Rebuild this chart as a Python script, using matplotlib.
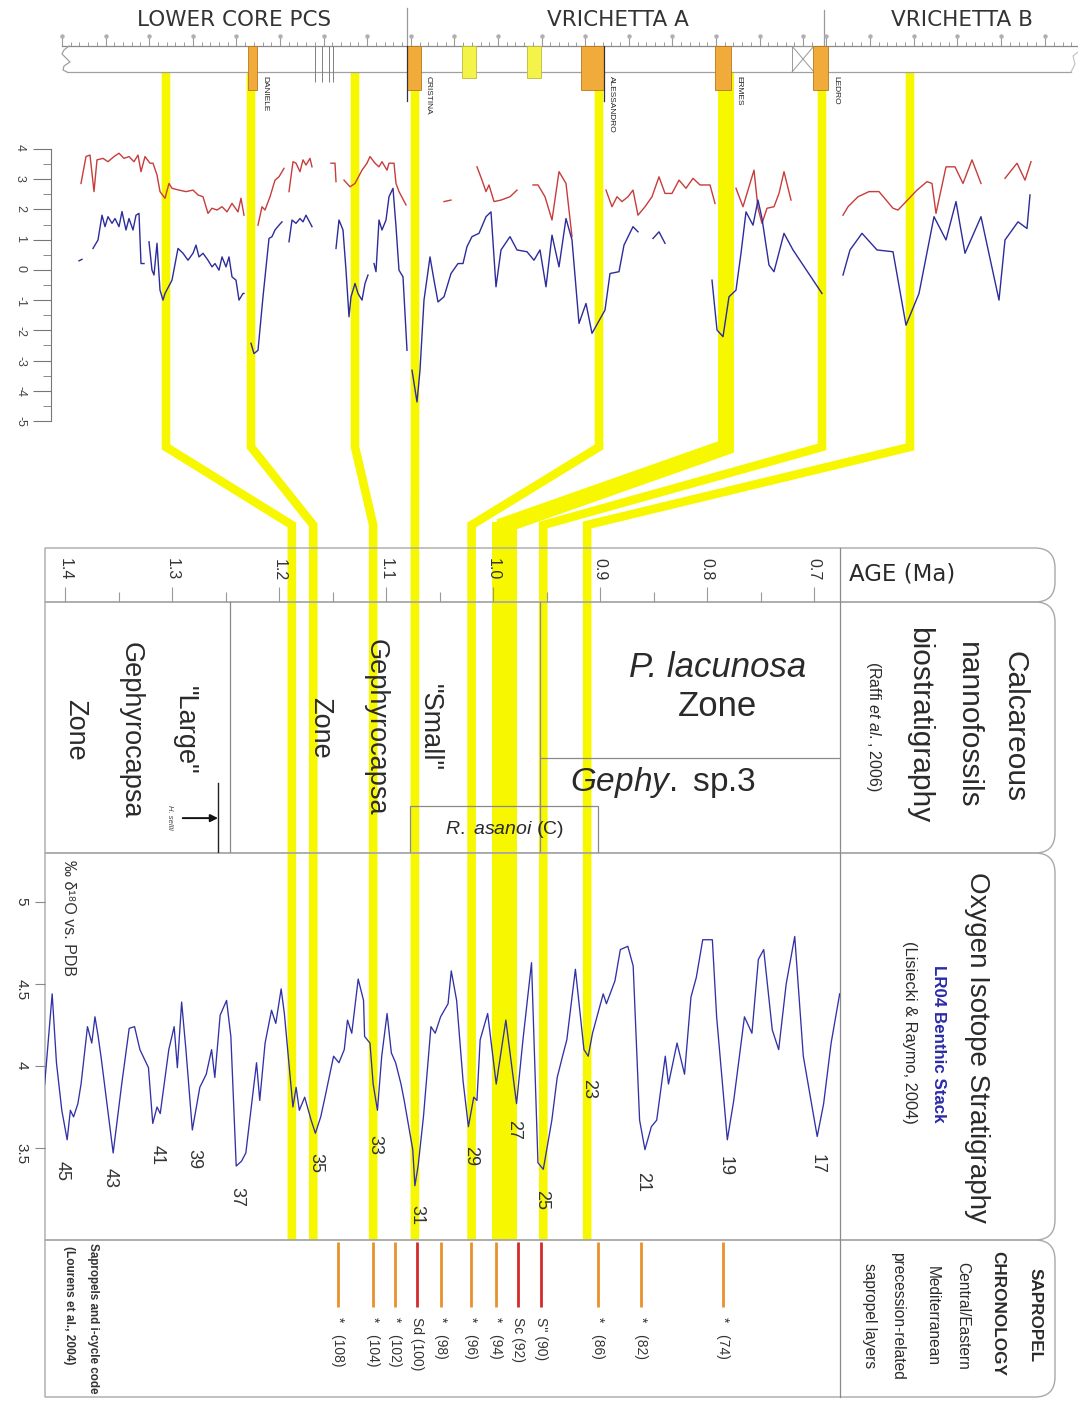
import numpy as np
import matplotlib
matplotlib.use('Agg')
import matplotlib.pyplot as plt
from matplotlib.patches import Rectangle, PathPatch
from matplotlib.path import Path
import matplotlib.transforms as mtransforms

plt.rcParams['font.family'] = ['Liberation Sans', 'DejaVu Sans']
plt.rcParams['mathtext.fontset'] = 'custom'
plt.rcParams['mathtext.rm'] = 'Liberation Sans'
plt.rcParams['mathtext.it'] = 'Liberation Sans:italic'
plt.rcParams['mathtext.bf'] = 'Liberation Sans:bold'
plt.rcParams['axes.unicode_minus'] = False

nan = np.nan

# ------------------------------------------------------------------ data
section_titles = ['LOWER CORE PCS', 'VRICHETTA A', 'VRICHETTA B']

# sapropel layers in the cores (composite core position, arbitrary units)
core_layer_names = ['DANIELE', 'CRISTINA', 'ALESSANDRO', 'ERMES', 'LEDRO']
core_layer_start = [248, 407, 581, 715, 813]
core_layer_end = [257, 421, 604, 731, 828]
minor_layer_start = [462, 527]
minor_layer_end = [476, 541]
core_marks = [315, 322, 329, 333]
core_gap = [792, 814]

# core isotope records (upper panel)
red_pos = [81, 86, 90, 94, 97, 103, 108, 114, 119, 124, 129, 134, 138, 141, 145, 150, 153, 157,
           160, 165, 169, 172, 179, 186, 193, 198, 203, 208, 212, 217, 222, 227, 232, 238, 241, 244, nan,
           258, 262, 265, 270, 275, 279, 284, nan,
           289, 293, 296, 300, 303, 306, 310, 312, nan,
           331, 335, 336, nan,
           344, 350, 355, 362, 367, 370, 375, 379, 382, 387, 389, 394, 396, 399, 406, nan,
           444, 451, nan,
           477, 482, 486, 489, 494, 501, 510, 517, nan,
           533, 538, 545, 552, 559, 566, 572, nan,
           606, 612, 617, 622, 628, 633, 638, 645, 652, 659, 665, 672, 679, 686, 693, 700, 710, 715, nan,
           736, 743, 750, 754, 758, 762, 767, 774, 779, 784, 791, nan,
           843, 848, 858, 869, 879, 893, 898, 906, 917, 927, 932, 936, 941, 946, 955, 963, 972, 981, nan,
           1005, 1017, 1025, 1031]
red_val = [2.86, 3.75, 3.80, 2.59, 3.64, 3.69, 3.58, 3.75, 3.86, 3.69, 3.75, 3.58, 3.80, 3.25, 3.75, 3.53, 3.53, 3.14,
           2.59, 2.37, 2.86, 2.70, 2.64, 2.59, 2.64, 2.48, 2.42, 1.87, 2.04, 1.98, 2.09, 1.92, 2.20, 1.92, 2.37, 1.81, nan,
           1.48, 2.09, 1.98, 2.42, 2.97, 3.08, 3.36, nan,
           2.59, 3.58, 3.53, 3.25, 3.64, 3.47, 3.69, 3.41, nan,
           3.53, 3.53, 2.92, nan,
           2.97, 2.75, 2.86, 3.30, 3.53, 3.75, 3.53, 3.41, 3.58, 3.30, 3.53, 3.53, 2.86, 2.59, 2.15, nan,
           2.26, 2.31, nan,
           3.41, 2.97, 2.59, 2.81, 2.26, 2.31, 2.42, 2.64, nan,
           2.81, 2.81, 2.42, 1.65, 3.25, 2.86, 1.10, nan,
           2.64, 2.09, 2.42, 2.26, 2.42, 2.64, 1.81, 2.09, 2.42, 3.08, 2.53, 2.53, 2.97, 2.70, 3.03, 2.81, 2.81, 2.20, nan,
           2.70, 2.09, 2.86, 3.30, 2.04, 1.54, 2.04, 2.09, 2.53, 3.25, 2.31, nan,
           1.81, 2.09, 2.42, 2.59, 2.59, 2.04, 1.98, 2.26, 2.64, 2.92, 2.86, 1.87, 2.64, 3.41, 3.41, 2.86, 3.64, 2.86, nan,
           3.03, 3.53, 2.97, 3.58]

blue_pos = [79, 82, nan,
            93, 98, 102, 105, 108, 112, 115, 119, 122, 126, 129, 133, 136, 139, 141, 144, nan,
            149, 152, 154, 157, 160, 163, 165, 172, 178, 183, 188, 193, 196, 199, 203, 208, 212, 215, 219,
            222, 226, 229, 232, 236, 239, 243, 244, nan,
            251, 254, 258, 263, 269, 272, 275, 279, 282, nan,
            289, 292, 296, 300, 303, 306, 312, nan,
            336, 339, 343, 346, 349, 351, 355, 358, 362, 365, 368, nan,
            374, 376, 379, 382, 386, 389, 393, 396, 399, 403, 407, nan,
            412, 417, 420, 424, 430, 434, 438, 444, 451, 458, 463, 467, 472, 479, 486, 491, 496, 501, 510,
            517, 527, 534, 540, 546, 552, 559, 566, 572, 579, 586, 592, 605, 610, 619, 624, 633, 638, nan,
            653, 659, 665, nan,
            712, 717, 723, 729, 736, 741, 746, 753, 758, 762, 769, 774, 784, 793, 822, nan,
            843, 850, 862, 877, 893, 906, 919, 934, 946, 956, 965, 981, 999, 1005, 1018, 1027, 1030]
blue_val = [0.30, 0.35, nan,
            0.71, 0.99, 1.81, 1.43, 1.76, 1.54, 1.70, 1.43, 1.93, 1.32, 1.70, 1.32, 1.81, 1.87, 0.21, 0.21, nan,
            0.93, -0.01, -0.17, 0.88, -0.67, -1.00, -0.78, -0.34, 0.71, 0.55, 0.32, 0.55, 0.82, 0.43, 0.55, 0.32,
            0.10, 0.21, -0.01, 0.43, 0.10, 0.43, -0.23, -0.34, -1.00, -0.78, -0.78, nan,
            -2.43, -2.77, -2.66, -0.89, 1.04, 1.10, 1.32, 1.48, 1.59, nan,
            0.93, 1.65, 1.54, 1.70, 1.59, 1.81, 1.43, nan,
            0.71, 1.65, 1.32, -0.01, -1.55, -0.89, -0.45, -0.78, -1.00, -0.45, -0.17, nan,
            0.21, -0.06, 1.65, 1.32, 1.65, 2.42, 2.70, 1.43, -0.01, -0.23, -2.66, nan,
            -3.32, -4.37, -3.32, -1.00, 0.43, -0.34, -1.06, -0.89, -0.12, 0.21, 0.21, 0.77, 1.10, 1.21, 1.76,
            1.92, -0.56, 0.66, 1.10, 0.66, 0.60, 0.32, 0.66, -0.56, 1.15, 0.10, 1.70, 0.99, -1.77, -1.11, -2.10,
            -1.33, -0.12, -0.06, 0.82, 1.43, 1.26, nan,
            1.04, 1.26, 0.88, nan,
            -0.34, -1.99, -2.21, -0.89, -0.67, 0.55, 1.92, 1.48, 2.31, 1.70, 0.16, -0.06, 1.21, 0.66, -0.78, nan,
            -0.17, 0.66, 1.21, 0.66, 0.60, -1.83, -0.78, 1.76, 0.99, 2.26, 0.55, 1.76, -1.00, 0.99, 1.59, 1.37, 2.48]
core_yticks = [4, 3, 2, 1, 0, -1, -2, -3, -4, -5]

# tie points: core position -> age (Ma)
tie_core_pos = [166, 251, 355, 415, 599, 726, 822, 910]
tie_age = [1.188, 1.168, 1.112, 1.073, 1.020, 0.989, 0.953, 0.912]

# age axis
age_ticks = [1.4, 1.3, 1.2, 1.1, 1.0, 0.9, 0.8, 0.7]
age_tick_labels = ['1.4', '1.3', '1.2', '1.1', '1.0', '0.9', '0.8', '0.7']
age_minor = [1.35, 1.25, 1.15, 1.05, 0.95, 0.85, 0.75]

# nannofossil biostratigraphy (ages, Ma)
large_gephy_top = 1.246
p_lacunosa_base = 0.956
h_sellii_age = 1.257
r_asanoi_range = [1.078, 0.902]

# LR04 benthic stack
lr04_age = [1.419, 1.412, 1.408, 1.403, 1.398, 1.395, 1.392, 1.388, 1.385, 1.379, 1.375, 1.372, 1.369, 1.366,
            1.355, 1.347, 1.340, 1.335, 1.330, 1.322, 1.318, 1.314, 1.311, 1.303, 1.298, 1.295, 1.291, 1.287,
            1.281, 1.274, 1.268, 1.263, 1.260, 1.255, 1.249, 1.245, 1.240, 1.235, 1.231, 1.221, 1.218, 1.213,
            1.207, 1.203, 1.198, 1.195, 1.189, 1.187, 1.184, 1.181, 1.176, 1.170, 1.166, 1.161, 1.157, 1.149,
            1.144, 1.139, 1.136, 1.132, 1.126, 1.121, 1.120, 1.115, 1.112, 1.108, 1.104, 1.099, 1.095, 1.091,
            1.086, 1.083, 1.075, 1.073, 1.070, 1.065, 1.058, 1.054, 1.049, 1.042, 1.039, 1.034, 1.028, 1.023,
            1.018, 1.015, 1.012, 1.005, 0.997, 0.988, 0.978, 0.972, 0.964, 0.958, 0.953, 0.945, 0.940, 0.935,
            0.931, 0.923, 0.915, 0.911, 0.907, 0.897, 0.894, 0.886, 0.881, 0.874, 0.869, 0.863, 0.858, 0.852,
            0.847, 0.839, 0.836, 0.828, 0.821, 0.815, 0.810, 0.804, 0.795, 0.791, 0.781, 0.775, 0.765, 0.758,
            0.752, 0.747, 0.739, 0.733, 0.726, 0.718, 0.710, 0.697, 0.691, 0.684, 0.676]
lr04_d18o = [3.89, 4.44, 4.02, 3.73, 3.55, 3.73, 3.69, 3.77, 3.89, 4.24, 4.14, 4.30, 4.18, 4.04,
             3.47, 3.89, 4.23, 4.24, 4.10, 3.99, 3.65, 3.75, 3.71, 4.10, 4.24, 3.99, 4.39, 4.10,
             3.61, 3.87, 3.95, 4.10, 3.93, 4.31, 4.40, 4.18, 3.39, 3.42, 3.47, 4.02, 3.79, 4.14,
             4.34, 4.26, 4.47, 4.32, 3.89, 3.75, 3.87, 3.73, 3.81, 3.67, 3.59, 3.69, 3.81, 4.06,
             4.02, 4.10, 4.28, 4.20, 4.53, 4.40, 4.18, 4.14, 3.89, 3.73, 4.06, 4.32, 4.08, 4.02,
             3.89, 3.79, 3.49, 3.27, 3.39, 3.69, 4.24, 4.20, 4.30, 4.38, 4.58, 4.40, 3.91, 3.63,
             3.81, 3.79, 4.16, 4.32, 3.89, 4.28, 3.77, 4.16, 4.63, 3.41, 3.37, 3.67, 3.93, 4.06,
             4.16, 4.59, 4.10, 4.06, 4.20, 4.44, 4.38, 4.52, 4.71, 4.73, 4.61, 3.67, 3.49, 3.63,
             3.67, 4.06, 3.89, 4.14, 3.95, 4.42, 4.54, 4.77, 4.77, 4.30, 3.55, 3.79, 4.30, 4.20,
             4.65, 4.71, 4.22, 4.10, 4.50, 4.79, 4.06, 3.57, 3.77, 4.14, 4.44]
lr04_ticks = [5, 4.5, 4, 3.5]
lr04_tick_labels = ['5', '4.5', '4', '3.5']

mis_num = ['45', '43', '41', '39', '37', '35', '33', '31', '29', '27', '25', '23', '21', '19', '17']
mis_age = [1.403, 1.358, 1.314, 1.280, 1.239, 1.166, 1.110, 1.071, 1.021, 0.981, 0.955, 0.911, 0.860, 0.783, 0.697]
mis_val = [3.36, 3.32, 3.46, 3.43, 3.20, 3.41, 3.52, 3.09, 3.45, 3.61, 3.18, 3.86, 3.29, 3.39, 3.40]

# sapropels (Lourens et al., 2004)
sap_age = [1.145, 1.112, 1.092, 1.071, 1.049, 1.021, 0.997, 0.977, 0.955, 0.902, 0.862, 0.785]
sap_label = ['*   (108)', '*   (104)', '*   (102)', 'Sd (100)', '*   (98)', '*   (96)', '*   (94)',
             'Sc (92)', "S'' (90)", '*   (86)', '*   (82)', '*   (74)']
sap_named = [0, 0, 0, 1, 0, 0, 0, 1, 1, 0, 0, 0]

# ------------------------------------------------------------------ styles
YEL = '#f7f700'
ORANGE = '#f0ab3a'
RED = '#c83c3c'
BLUE = '#2c2c9c'
GREY = '#9a9a9a'
TXT = '#2a2a2a'

W, H = 1078, 1402
fig = plt.figure(figsize=(W / 100, H / 100), dpi=100)
fig.patch.set_facecolor('white')


def px_axes(x0, y0, x1, y1, z=2):
    ax = fig.add_axes([x0 / W, 1 - y1 / H, (x1 - x0) / W, (y1 - y0) / H], zorder=z)
    ax.set_facecolor('none')
    for s in ax.spines.values():
        s.set_visible(False)
    return ax


ov = fig.add_axes([0, 0, 1, 1], zorder=0)
ov.set_xlim(0, W)
ov.set_ylim(H, 0)
ov.axis('off')

ax_up = px_axes(0, 149, W, 421)
ax_core = px_axes(0, 46, W, 72, z=3)
ax_age = px_axes(45, 548, 840, 602)
ax_nan = px_axes(45, 602, 840, 853)
ax_lr = px_axes(45, 853, 840, 1240)
ax_sap = px_axes(45, 1240, 840, 1397)

AGE_L, AGE_R = 1.4187, 0.6757
for ax in (ax_age, ax_nan, ax_lr, ax_sap):
    ax.set_xlim(AGE_L, AGE_R)
ax_up.set_xlim(0, W)
ax_up.set_ylim(-5, 4)
ax_core.set_xlim(0, W)
ax_core.set_ylim(1, 0)
ax_core.axis('off')


def to_ov(ax, x, y):
    d = ax.transData.transform((x, y))
    return ov.transData.inverted().transform(d)


# ---------------------------------------------------- yellow correlation bands
for i, (pos, age) in enumerate(zip(tie_core_pos, tie_age)):
    xt = to_ov(ax_up, pos, 0)[0]
    xb = to_ov(ax_lr, age, 4)[0]
    wide = (i == 5)
    lw = 11.5 if wide else 6.2
    ov.plot([xt, xt, xb, xb], [72, 447, 525, 1240], color=YEL, lw=lw,
            solid_joinstyle='miter', solid_capstyle='butt', zorder=1)
    if wide:
        ov.add_patch(Rectangle((xb - 12.5, 522), 25, 718, fc=YEL, ec='none', zorder=1))

# ---------------------------------------------------- header
for txt, xc in zip(section_titles, [234, 618, 962]):
    ov.text(xc, 20, txt, ha='center', va='center', fontsize=15.5, family='DejaVu Sans', color='#333')
ov.plot([407, 407], [8, 46], color=GREY, lw=0.9, zorder=3)
ov.plot([824, 824], [10, 46], color=GREY, lw=0.9, zorder=3)

maj = list(np.arange(62, 816, 43.6)) + list(np.arange(826, 1078, 43.8))
mnr = list(np.arange(62, 816, 8.72)) + list(np.arange(826, 1078, 8.76))
ov.vlines(mnr, 42, 46, color=GREY, lw=0.7, zorder=3)
ov.vlines(maj, 36, 46, color=GREY, lw=0.8, zorder=3)
ov.plot(maj, [36] * len(maj), 'o', ms=2.2, color='#b0b0b0', zorder=3)
ov.plot([62, 1078], [46, 46], color='#8a8a8a', lw=0.9, zorder=3)
ov.plot([67, 1071], [72, 72], color='#a0a0a0', lw=0.9, zorder=3)
ov.plot([69, 64, 62, 66, 70, 64, 63, 67], [46, 50, 54, 58, 62, 66, 70, 72], color='#a0a0a0', lw=0.9, zorder=3)
ov.plot([1071, 1075, 1073, 1078], [72, 64, 56, 52], color='#c0c0c0', lw=0.8, zorder=3)

# core layers
for nm, s, e in zip(core_layer_names, core_layer_start, core_layer_end):
    ax_core.add_patch(Rectangle((s, 0), e - s, 1.69, fc=ORANGE, ec='#b8761e', lw=0.6, clip_on=False, zorder=3))
    ax_core.text(e + 4, 1.15, nm, rotation=-90, ha='left', va='top', fontsize=6, color='#222')
ax_core.plot([core_layer_start[1]] * 2, [0, 2.1], color='#333', lw=0.9, clip_on=False, zorder=4)
ax_core.plot([core_layer_end[2]] * 2, [0, 2.1], color='#333', lw=0.9, clip_on=False, zorder=4)
for s, e in zip(minor_layer_start, minor_layer_end):
    ax_core.add_patch(Rectangle((s, 0), e - s, 1.23, fc='#f3f34a', ec='#bcbc3a', lw=0.6, clip_on=False, zorder=3))
ax_core.vlines(core_marks, 0, 1.38, color='#808080', lw=0.7, clip_on=False)
ax_core.add_patch(Rectangle((core_gap[0], 0), core_gap[1] - core_gap[0], 1, fc='none', ec='#999', lw=0.7))
ax_core.plot(core_gap, [0, 1], color='#999', lw=0.7)
ax_core.plot(core_gap, [1, 0], color='#999', lw=0.7)

# ---------------------------------------------------- upper isotope curves
ax_up.plot(red_pos, red_val, color=RED, lw=1.0, zorder=3)
ax_up.plot(blue_pos, blue_val, color=BLUE, lw=1.0, zorder=3)
ax_up.spines['left'].set_visible(True)
ax_up.spines['left'].set_position(('data', 51))
ax_up.spines['left'].set_color('#777')
ax_up.spines['left'].set_linewidth(0.8)
ax_up.set_xticks([])
ax_up.set_yticks(core_yticks)
ax_up.set_yticks(np.arange(-4.5, 4.0, 1.0), minor=True)
ax_up.tick_params(axis='y', which='major', direction='out', length=13, width=0.8, colors='#777',
                  labelsize=9, labelcolor='#444', labelrotation=-90, pad=5)
ax_up.tick_params(axis='y', which='minor', direction='out', length=5.5, width=0.7, colors='#888')

# ---------------------------------------------------- panel frames
MOVETO, LINETO, CURVE3, CLOSE = Path.MOVETO, Path.LINETO, Path.CURVE3, Path.CLOSEPOLY


def panel(y0, y1, x0=45, x1=1055, r=20):
    verts = [(x0, y0), (x1 - r, y0), (x1, y0), (x1, y0 + r), (x1, y1 - r), (x1, y1), (x1 - r, y1), (x0, y1), (x0, y0)]
    codes = [MOVETO, LINETO, CURVE3, CURVE3, LINETO, CURVE3, CURVE3, LINETO, CLOSE]
    ov.add_patch(PathPatch(Path(verts, codes), fc='none', ec='#a8a8a8', lw=1.0, zorder=3))


for y0, y1 in [(548, 602), (602, 853), (853, 1240), (1240, 1397)]:
    panel(y0, y1)
ov.plot([840, 840], [548, 1397], color='#8a8a8a', lw=0.9, zorder=3)

# ---------------------------------------------------- age axis
ax_age.set_ylim(0, 1)
ax_age.set_yticks([])
ax_age.set_xticks(age_ticks)
ax_age.set_xticks(age_minor, minor=True)
ax_age.tick_params(axis='x', which='major', direction='in', length=11, width=0.8, color='#999', labelbottom=False)
ax_age.tick_params(axis='x', which='minor', direction='in', length=7, width=0.8, color='#999')
bt = mtransforms.blended_transform_factory(ax_age.transData, ax_age.transAxes)
for t, lab in zip(age_ticks, age_tick_labels):
    ax_age.text(t, 0.6, lab, transform=bt, rotation=-90, ha='center', va='center', fontsize=11.5, color='#333')
ov.text(849, 574, 'AGE (Ma)', ha='left', va='center', fontsize=16.5, family='DejaVu Sans', color=TXT, zorder=4)

# ---------------------------------------------------- nannofossil zones
ax_nan.set_ylim(0, 1)
ax_nan.set_xticks([])
ax_nan.set_yticks([])
ax_nan.axvline(large_gephy_top, color='#8a8a8a', lw=0.9)
ax_nan.axvline(p_lacunosa_base, color='#8a8a8a', lw=0.9)
ax_nan.hlines(0.378, p_lacunosa_base, AGE_R, color='#8a8a8a', lw=0.9)
ax_nan.add_patch(Rectangle((r_asanoi_range[0], 0), r_asanoi_range[1] - r_asanoi_range[0], 0.187,
                           fc='none', ec='#8a8a8a', lw=0.9))
ax_nan.plot([h_sellii_age] * 2, [0, 0.279], color='#222', lw=1.0)
ax_nan.annotate('', xy=(h_sellii_age, 0.139), xytext=(1.290, 0.139),
                arrowprops=dict(arrowstyle='-|>', color='#111', lw=1.4, mutation_scale=11, shrinkA=0, shrinkB=0))
ax_nan.text(1.302, 0.143, 'H. sellii', rotation=-90, style='italic', fontsize=5.5, ha='center', va='center', color='#444')

zkw = dict(rotation=-90, ha='center', va='center', fontsize=19.5, color=TXT)
ax_nan.text(1.288, 0.49, '"Large"', **zkw)
ax_nan.text(1.339, 0.49, 'Gephyrocapsa', **zkw)
ax_nan.text(1.391, 0.49, 'Zone', **zkw)
ax_nan.text(1.059, 0.50, '"Small"', **zkw)
ax_nan.text(1.110, 0.50, 'Gephyrocapsa', **zkw)
ax_nan.text(1.162, 0.50, 'Zone', **zkw)
ax_nan.text(0.790, 0.741, 'P. lacunosa', style='italic', ha='center', va='center', fontsize=25, color=TXT)
ax_nan.text(0.790, 0.582, 'Zone', ha='center', va='center', fontsize=25, color=TXT)
ax_nan.text(0.841, 0.279, r'$\it{Gephy.}$ sp.3', ha='center', va='center', fontsize=24, color=TXT)
ax_nan.text(0.989, 0.092, r'$\it{R.\ asanoi}$ (C)', ha='center', va='center', fontsize=14, color=TXT)

rkw = dict(rotation=-90, ha='center', va='center', color=TXT, zorder=4)
ov.text(1014, 727, 'Calcareous', fontsize=21.5, **rkw)
ov.text(968, 725, 'nannofossils', fontsize=21.5, **rkw)
ov.text(919, 725, 'biostratigraphy', fontsize=21.5, **rkw)
ov.text(874, 726, r'(Raffi $\it{et\ al.}$, 2006)', fontsize=11.5, **rkw)

# ---------------------------------------------------- LR04
ax_lr.set_ylim(2.939, 5.299)
ax_lr.set_xticks([])
ax_lr.set_yticks(lr04_ticks)
ax_lr.set_yticklabels(lr04_tick_labels)
ax_lr.tick_params(axis='y', direction='out', length=7, width=0.8, colors='#888',
                  labelsize=11, labelcolor='#333', labelrotation=-90, pad=5)
ax_lr.plot(lr04_age, lr04_d18o, color='#3131a8', lw=0.95, zorder=3)
for n, a, v in zip(mis_num, mis_age, mis_val):
    ax_lr.text(a, v, n, rotation=-90, ha='center', va='center', fontsize=13, color='#333', zorder=4)
ov.text(68, 860, '‰ δ¹⁸O vs. PDB', rotation=-90, ha='center', va='top', fontsize=11.5, color='#333', zorder=4)
ov.text(977, 1047, 'Oxygen Isotope Stratigraphy', fontsize=20, **rkw)
ov.text(939, 1044, 'LR04 Benthic Stack', fontsize=12.2, fontweight='bold', rotation=-90, ha='center',
        va='center', color='#2a2aa8', zorder=4)
ov.text(910, 1032, '(Lisiecki & Raymo, 2004)', fontsize=11.8, **rkw)

# ---------------------------------------------------- sapropels
ax_sap.set_ylim(0, 1)
ax_sap.set_xticks([])
ax_sap.set_yticks([])
for a, lab, k in zip(sap_age, sap_label, sap_named):
    c = '#d42a2a' if k else '#e8922e'
    ax_sap.vlines(a, 0.573, 0.99, color=c, lw=2.0)
    ax_sap.text(a, 0.51, lab, rotation=-90, ha='center', va='top', fontsize=10, color='#333')
ov.text(1035, 1315, 'SAPROPEL', fontsize=12.3, fontweight='bold', **rkw)
ov.text(998, 1313, 'CHRONOLOGY', fontsize=12.3, fontweight='bold', **rkw)
ov.text(963, 1316, 'Central/Eastern', fontsize=11.2, **rkw)
ov.text(932, 1316, 'Mediterranean', fontsize=11.2, **rkw)
ov.text(898, 1316, 'precession-related', fontsize=11.2, **rkw)
ov.text(870, 1316, 'sapropel layers', fontsize=11.2, **rkw)
ov.text(93, 1243, 'Sapropels and i-cycle code', rotation=-90, ha='center', va='top', fontsize=8.4,
        fontweight='bold', color='#333', zorder=4)
ov.text(69, 1246, '(Lourens et al., 2004)', rotation=-90, ha='center', va='top', fontsize=8.6,
        fontweight='bold', color='#333', zorder=4)

fig.savefig('out.png', dpi=100, facecolor='white')
